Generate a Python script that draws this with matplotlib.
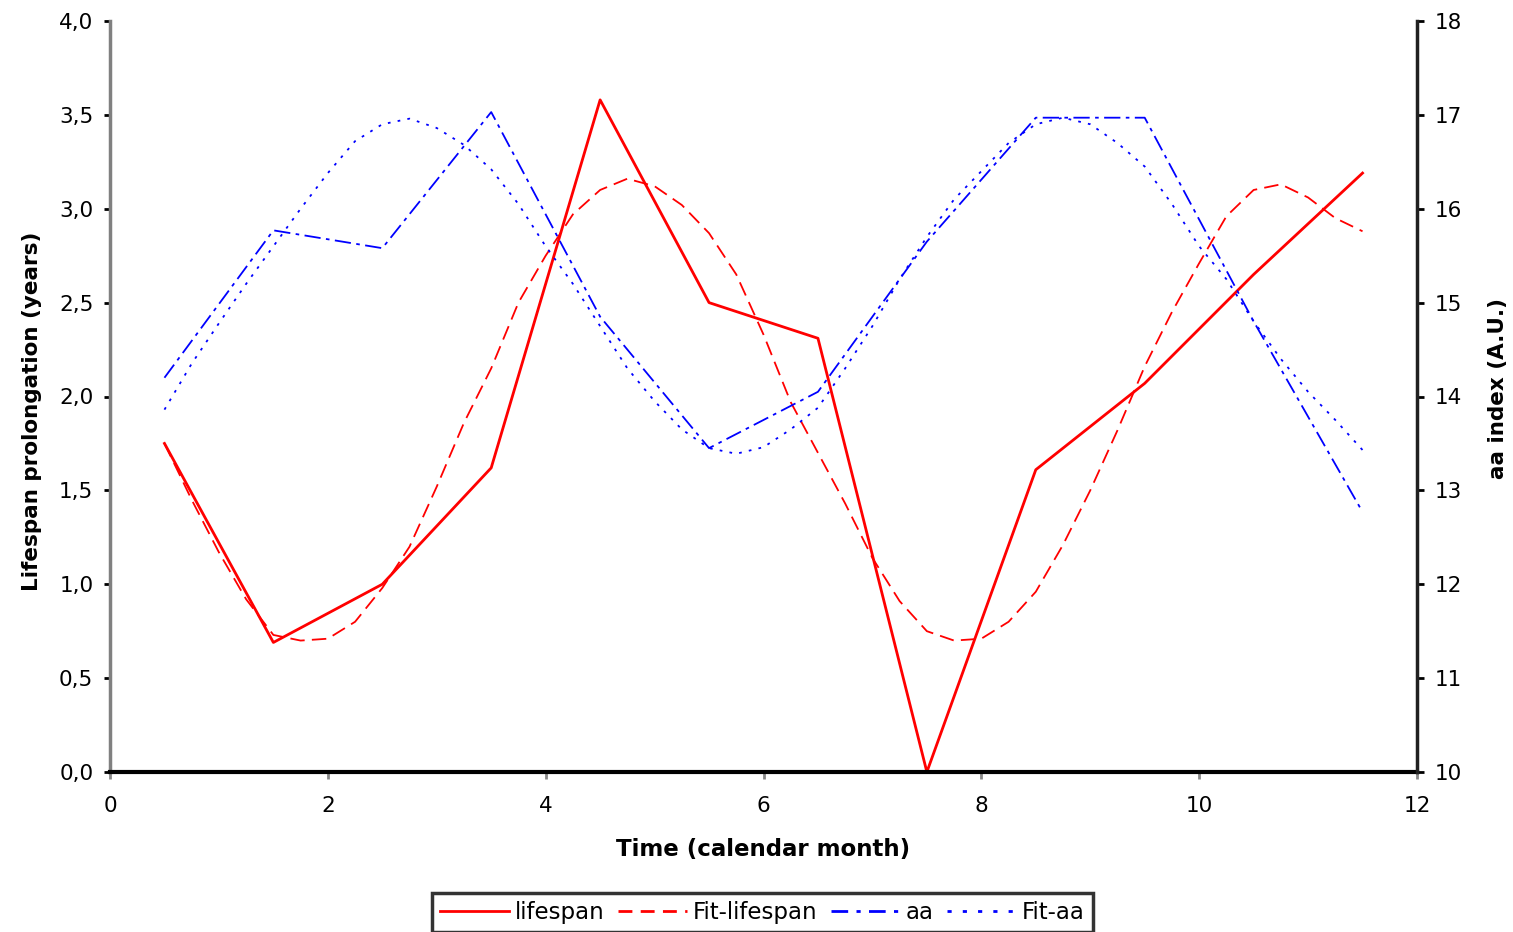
import matplotlib
matplotlib.use("Agg")
import matplotlib.pyplot as plt
from matplotlib.ticker import FuncFormatter, MultipleLocator
from matplotlib.lines import Line2D

# monthly observations (middle of each calendar month)
months = [0.5, 1.5, 2.5, 3.5, 4.5, 5.5, 6.5, 7.5, 8.5, 9.5, 10.5, 11.5]
lifespan = [1.75, 0.69, 1.00, 1.62, 3.58, 2.50, 2.31, 0.00, 1.61, 2.07, 2.65, 3.19]
aa = [14.2, 15.77, 15.58, 17.03, 14.85, 13.45, 14.05, 15.65, 16.97, 16.97, 14.8, 12.77]

# fitted curves, sampled every quarter month
fit_t = [0.5, 0.75, 1.0, 1.25, 1.5, 1.75, 2.0, 2.25, 2.5, 2.75, 3.0, 3.25,
         3.5, 3.75, 4.0, 4.25, 4.5, 4.75, 5.0, 5.25, 5.5, 5.75, 6.0, 6.25,
         6.5, 6.75, 7.0, 7.25, 7.5, 7.75, 8.0, 8.25, 8.5, 8.75, 9.0, 9.25,
         9.5, 9.75, 10.0, 10.25, 10.5, 10.75, 11.0, 11.25, 11.5]
fit_lifespan = [1.75, 1.45, 1.17, 0.92, 0.73, 0.70, 0.71, 0.80, 0.98, 1.20, 1.52, 1.86,
                2.15, 2.50, 2.75, 2.97, 3.10, 3.16, 3.12, 3.02, 2.87, 2.65, 2.33, 1.97,
                1.70, 1.43, 1.14, 0.91, 0.75, 0.70, 0.71, 0.80, 0.96, 1.21, 1.50, 1.82,
                2.16, 2.45, 2.71, 2.96, 3.10, 3.13, 3.06, 2.95, 2.88]
fit_aa = [13.86, 14.35, 14.78, 15.20, 15.60, 16.00, 16.38, 16.72, 16.90, 16.96, 16.86, 16.68,
          16.42, 16.05, 15.60, 15.20, 14.75, 14.30, 13.95, 13.65, 13.45, 13.39, 13.46, 13.65,
          13.88, 14.30, 14.75, 15.25, 15.70, 16.10, 16.40, 16.70, 16.90, 16.97, 16.90, 16.70,
          16.45, 16.05, 15.60, 15.25, 14.80, 14.40, 14.05, 13.75, 13.43]

plt.rcParams['font.family'] = ['DejaVu Sans']

fig = plt.figure(figsize=(15.13, 9.32), dpi=100)
ax = fig.add_axes([110 / 1513, 1 - 772 / 932, (1417 - 110) / 1513, (772 - 21) / 932])
ax2 = ax.twinx()

ax.plot(months, lifespan, color='#ff0000', lw=2, label='lifespan')
ax.plot(fit_t, fit_lifespan, color='#ff0000', lw=1.3, ls=(0, (8, 4)), label='Fit-lifespan')
ax2.plot(months, aa, color='#0000ff', lw=1.3, ls=(0, (9, 3, 2, 3)), label='aa')
ax2.plot(fit_t, fit_aa, color='#0000ff', lw=1.3, ls=(0, (1.5, 4)), label='Fit-aa')

ax.set_xlim(0, 12)
ax.set_ylim(0, 4)
ax2.set_ylim(10, 18)
ax.xaxis.set_major_locator(MultipleLocator(2))
ax.yaxis.set_major_locator(MultipleLocator(0.5))
ax2.yaxis.set_major_locator(MultipleLocator(1))
ax.yaxis.set_major_formatter(FuncFormatter(lambda v, p: f"{v:.1f}".replace('.', ',')))

for s in ['top', 'right']:
    ax.spines[s].set_visible(False)
for s in ['top', 'left', 'bottom']:
    ax2.spines[s].set_visible(False)
ax.spines['left'].set_color('#808080')
ax.spines['left'].set_linewidth(2.5)
ax.spines['bottom'].set_color('black')
ax.spines['bottom'].set_linewidth(3)
ax2.spines['right'].set_color('#202020')
ax2.spines['right'].set_linewidth(2.5)

ax.tick_params(axis='y', direction='out', length=4, width=2, color='black', labelsize=15.5, pad=8)
ax.tick_params(axis='x', direction='out', length=5, width=2, color='#888888', labelsize=15.5, pad=12)
ax2.tick_params(axis='y', direction='out', length=5, width=2, color='black', labelsize=15.5, pad=8)

ax.set_xlabel('Time (calendar month)', fontsize=16.5, fontweight='bold', labelpad=16)
ax.set_ylabel('Lifespan prolongation (years)', fontsize=15.5, fontweight='bold')
ax.yaxis.set_label_coords(-0.052, 0.48)
ax2.set_ylabel('aa index (A.U.)', fontsize=15.5, fontweight='bold')
ax2.yaxis.set_label_coords(1.054, 0.51)

handles = [Line2D([], [], color='#ff0000', lw=2),
           Line2D([], [], color='#ff0000', lw=2, ls=(0, (5, 3))),
           Line2D([], [], color='#0000ff', lw=2, ls=(0, (6, 3, 1.5, 3))),
           Line2D([], [], color='#0000ff', lw=2, ls=(0, (1.5, 4)))]
labels = ['lifespan', 'Fit-lifespan', 'aa', 'Fit-aa']
leg = fig.legend(handles, labels, loc='upper center', bbox_to_anchor=(0.504, 1 - 893 / 932),
                 ncol=4, fontsize=16.5, frameon=True, fancybox=False, handlelength=3.0,
                 handletextpad=0.25, columnspacing=0.6, borderpad=0.35, borderaxespad=0)
leg.get_frame().set_edgecolor('black')
leg.get_frame().set_linewidth(2.5)

fig.savefig('out.png', dpi=100)
